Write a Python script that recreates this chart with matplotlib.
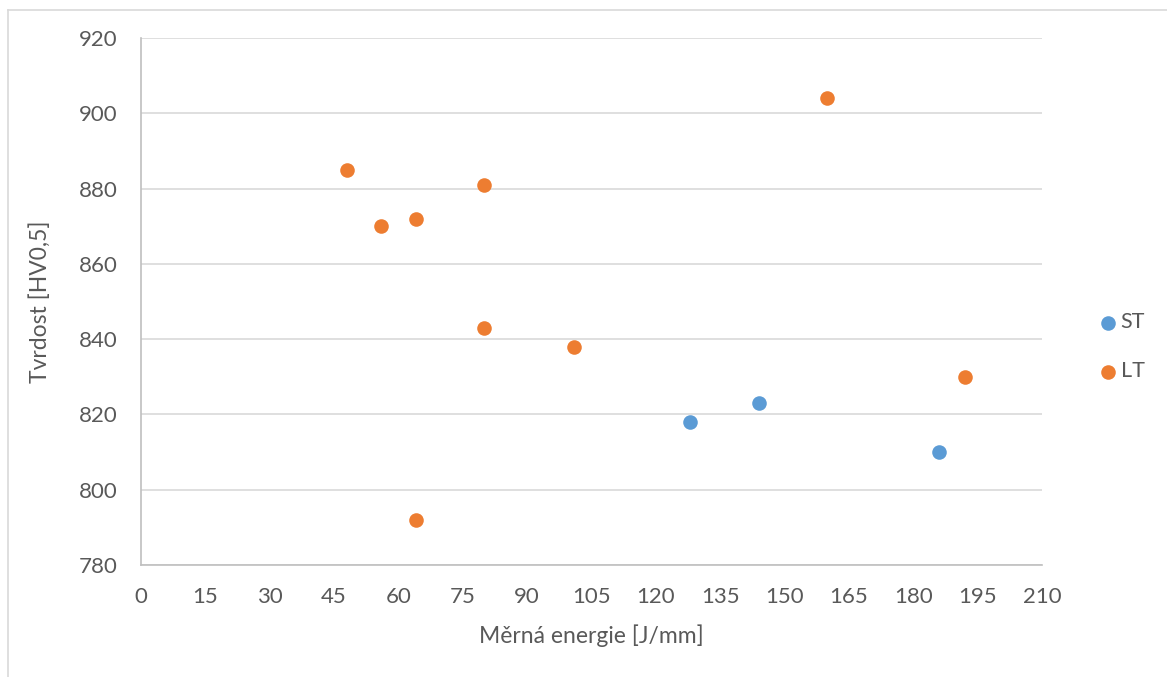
import matplotlib
matplotlib.use("Agg")
import matplotlib.pyplot as plt
from matplotlib.lines import Line2D

plt.rcParams['font.family'] = ['Lato', 'DejaVu Sans']

# Measured hardness vs. specific energy
st_energy = [128, 144, 186]
st_hardness = [818, 823, 810]
lt_energy = [48, 56, 64, 80, 80, 101, 160, 192, 64]
lt_hardness = [885, 870, 872, 881, 843, 838, 904, 830, 792]

x_ticks = list(range(0, 211, 15))
y_ticks = list(range(780, 921, 20))

blue = '#5B9BD5'
orange = '#ED7D31'
text_col = '#595959'
grid_col = '#D9D9D9'

W, H = 1167, 677
fig = plt.figure(figsize=(W / 100, H / 100), dpi=100)

# chart frame (left and top edges visible)
fig.add_artist(Line2D([8 / W, 8 / W], [0, 1 - 10 / H], color='#D9D9D9', lw=1.2))
fig.add_artist(Line2D([8 / W, 1], [1 - 10 / H, 1 - 10 / H], color='#D9D9D9', lw=1.2))

ax = fig.add_axes([141 / W, 1 - 565 / H, (1042 - 141) / W, (565 - 38) / H])
ax.set_xlim(0, 210)
ax.set_ylim(780, 920)
ax.set_xticks(x_ticks)
ax.set_yticks(y_ticks)
ax.yaxis.grid(True, color=grid_col, lw=1.2)
ax.set_axisbelow(True)
for s in ['top', 'right']:
    ax.spines[s].set_visible(False)
for s in ['left', 'bottom']:
    ax.spines[s].set_color('#BFBFBF')
    ax.spines[s].set_linewidth(1.2)
ax.tick_params(length=0, labelsize=16, colors=text_col)
ax.tick_params(axis='x', pad=16)
ax.tick_params(axis='y', pad=17)

ax.scatter(st_energy, st_hardness, s=110, color=blue, label='ST', zorder=3, linewidths=0)
ax.scatter(lt_energy, lt_hardness, s=110, color=orange, label='LT', zorder=3, linewidths=0)

ax.set_xlabel('Měrná energie [J/mm]', fontsize=16.5, color=text_col, labelpad=12)
ax.set_ylabel('Tvrdost [HV0,5]', fontsize=16.5, color=text_col, labelpad=20)

leg = ax.legend(loc='center left', bbox_to_anchor=(1.049, 0.414), frameon=False,
                fontsize=15.5, handletextpad=0.0, labelspacing=1.35,
                markerscale=1.0, handlelength=1.2, borderaxespad=0)
for t in leg.get_texts():
    t.set_color(text_col)

fig.savefig('out.png', dpi=100)
